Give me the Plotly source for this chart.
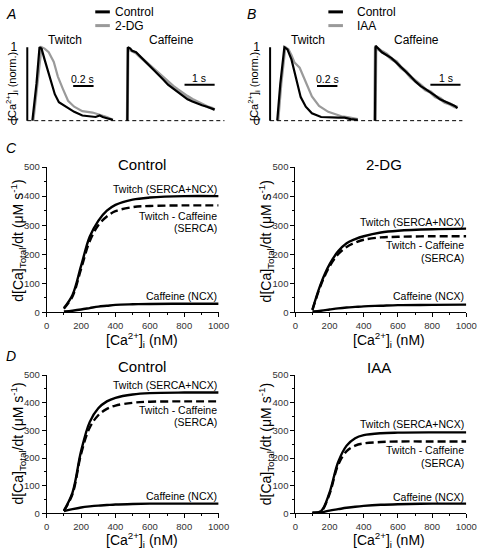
import plotly.graph_objects as go

W, H = 487, 549

# ---------------- Panel A / B data (normalised [Ca2+]i traces) ----------------
a_twitch_ctl_t = [0.05, 0.09, 0.12, 0.14, 0.17, 0.21, 0.24, 0.27, 0.31, 0.38, 0.46, 0.54, 0.62, 0.67, 0.71, 0.74, 0.79, 0.84]
a_twitch_ctl_y = [0.0, 0.5, 1.0, 0.98, 0.83, 0.65, 0.49, 0.36, 0.25, 0.19, 0.12, 0.07, 0.06, 0.05, 0.07, 0.05, 0.03, 0.01]
a_twitch_dg_t = [0.06, 0.10, 0.14, 0.17, 0.21, 0.26, 0.30, 0.35, 0.40, 0.46, 0.54, 0.64, 0.69, 0.73, 0.78, 0.83]
a_twitch_dg_y = [0.0, 0.55, 1.0, 0.98, 0.93, 0.80, 0.60, 0.43, 0.27, 0.19, 0.13, 0.11, 0.09, 0.07, 0.05, 0.02]

a_caff_t = [0, 0.02, 0.10, 0.16, 0.29, 0.39, 0.55, 0.71, 0.87, 1.03, 1.19, 1.35, 1.52, 1.68, 1.84, 2.00, 2.16, 2.32, 2.48, 2.65, 2.81, 2.90]
a_caff_ctl_y = [0, 1.00, 0.98, 0.95, 0.93, 0.89, 0.83, 0.76, 0.69, 0.63, 0.56, 0.49, 0.44, 0.39, 0.34, 0.29, 0.26, 0.23, 0.21, 0.19, 0.16, 0.15]
a_caff_dg_y = [0, 0.97, 0.96, 0.95, 0.92, 0.88, 0.82, 0.77, 0.71, 0.65, 0.58, 0.52, 0.47, 0.42, 0.37, 0.33, 0.29, 0.26, 0.22, 0.19, 0.17, 0.15]

b_twitch_ctl_t = [0.07, 0.10, 0.14, 0.17, 0.21, 0.24, 0.27, 0.30, 0.35, 0.41, 0.50, 0.60, 0.67, 0.73, 0.79, 0.86]
b_twitch_ctl_y = [0.0, 0.5, 1.0, 0.97, 0.83, 0.65, 0.47, 0.32, 0.19, 0.10, 0.05, 0.04, 0.04, 0.04, 0.02, 0.01]
b_twitch_iaa_t = [0.08, 0.11, 0.15, 0.18, 0.21, 0.24, 0.29, 0.35, 0.41, 0.48, 0.57, 0.70, 0.76, 0.86]
b_twitch_iaa_y = [0.0, 0.5, 1.0, 0.97, 0.89, 0.79, 0.72, 0.53, 0.33, 0.20, 0.12, 0.06, 0.05, 0.02]

b_caff_t = [0, 0.02, 0.23, 0.39, 0.55, 0.71, 0.87, 1.03, 1.19, 1.35, 1.52, 1.68, 1.84, 2.00, 2.16, 2.32, 2.48, 2.65, 2.74]
b_caff_ctl_y = [0, 1.02, 0.93, 0.89, 0.85, 0.79, 0.73, 0.66, 0.60, 0.53, 0.47, 0.43, 0.39, 0.34, 0.29, 0.26, 0.23, 0.20, 0.17]
b_caff_iaa_y = [0, 1.00, 0.94, 0.90, 0.84, 0.80, 0.72, 0.67, 0.59, 0.54, 0.48, 0.42, 0.39, 0.33, 0.30, 0.25, 0.23, 0.19, 0.18]

# ---------------- Panel C / D data (d[Ca]Total/dt vs [Ca2+]i) ----------------
ca_nM = [100, 150, 200, 250, 300, 350, 400, 500, 600, 800, 1000]

c_ctl_twitch = [15, 60, 160, 260, 315, 350, 370, 388, 395, 400, 400]
c_ctl_serca = [13, 55, 150, 245, 300, 330, 348, 362, 366, 368, 368]
c_ctl_ncx = [3, 6, 10, 15, 20, 23, 26, 28, 29, 30, 30]

c_dg_twitch = [10, 100, 165, 210, 238, 252, 262, 275, 281, 286, 288]
c_dg_serca = [8, 95, 158, 200, 225, 240, 250, 258, 260, 262, 262]
c_dg_ncx = [3, 6, 10, 14, 17, 19, 21, 23, 25, 26, 27]

d_ctl_twitch = [10, 75, 225, 330, 380, 405, 418, 430, 435, 437, 437]
d_ctl_serca = [8, 70, 215, 310, 355, 378, 390, 400, 404, 405, 405]
d_ctl_ncx = [8, 15, 21, 25, 28, 30, 32, 34, 35, 35, 35]

d_iaa_twitch = [2, 8, 75, 185, 245, 272, 283, 290, 292, 293, 293]
d_iaa_serca = [2, 7, 70, 175, 225, 245, 253, 258, 260, 260, 260]
d_iaa_ncx = [1, 3, 10, 15, 20, 24, 27, 31, 33, 35, 35]

y_ticks = [0, 100, 200, 300, 400, 500]
x_ticks = [0, 200, 400, 600, 800, 1000]

FONT = "Liberation Sans, Arial, sans-serif"
GREY = "#9a9a9a"


def xd(a, b):
    return [a / W, b / W]


def yd(top, bottom):
    return [1 - bottom / H, 1 - top / H]


def px(x):
    return x / W


def py(y):
    return 1 - y / H


fig = go.Figure()
layout = dict(width=W, height=H, margin=dict(l=0, r=0, t=0, b=0),
              plot_bgcolor="white", paper_bgcolor="white", showlegend=False,
              font=dict(family=FONT, color="black"))

# ---------- top panels: axes ----------
TW_PPS = 105.0   # px per second twitch
CF_PPS = 31.0    # px per second caffeine
Y0, Y1 = 117.0, 42.0  # px of value 0 and 1
ylo, yhi = -0.12, 1.12
ppu = (Y0 - Y1)
ydom_top = yd(Y1 - (yhi - 1) * ppu, Y0 - ylo * ppu)


def hidden_x(t0px, lo, hi, pps, anchor):
    return dict(domain=xd(t0px + lo * pps, t0px + hi * pps), range=[lo, hi],
                visible=False, anchor=anchor)


# A twitch x, A caffeine x2, B twitch x3, B caffeine x4 ; y (A), y2 (B)
layout["xaxis"] = hidden_x(25, -0.05, 0.95, TW_PPS, "y")
layout["xaxis2"] = hidden_x(128, -0.2, 3.5, CF_PPS, "y")
layout["xaxis3"] = hidden_x(275, -0.05, 0.95, TW_PPS, "y2")
layout["xaxis4"] = hidden_x(383, -0.2, 3.3, CF_PPS, "y2")
for name, anchor in (("yaxis", "x"), ("yaxis2", "x3")):
    layout[name] = dict(domain=ydom_top, range=[ylo, yhi], anchor=anchor,
                        showline=False, showgrid=False, zeroline=False,
                        tickvals=[0, 1], ticks="", ticklabelstandoff=4,
                        tickfont=dict(size=12, family=FONT, color="black"))


def line(x, y, xa, ya, color="black", width=2.0, dash="solid", shape="linear"):
    fig.add_trace(go.Scatter(x=x, y=y, xaxis=xa, yaxis=ya, mode="lines",
                             line=dict(color=color, width=width, dash=dash, shape=shape),
                             hoverinfo="skip"))


# axis lines of top panels (from 0 to 1)
line([0, 0], [0, 1], "x", "y", width=2)
line([0, 0], [0, 1], "x3", "y2", width=2)

# A traces
line(a_twitch_dg_t, a_twitch_dg_y, "x", "y", color=GREY, width=2.2)
line(a_twitch_ctl_t, a_twitch_ctl_y, "x", "y", width=2.2)
line(a_caff_t, a_caff_dg_y, "x2", "y", color=GREY, width=3)
line(a_caff_t, a_caff_ctl_y, "x2", "y", width=2.2)
# B traces
line(b_twitch_iaa_t, b_twitch_iaa_y, "x3", "y2", color=GREY, width=2.2)
line(b_twitch_ctl_t, b_twitch_ctl_y, "x3", "y2", width=2.2)
line(b_caff_t, b_caff_iaa_y, "x4", "y2", color=GREY, width=3.5)
line(b_caff_t, b_caff_ctl_y, "x4", "y2", width=2.2)

# scale bars
line([0.45, 0.65], [0.47, 0.47], "x", "y", width=2)
line([1.9, 2.9], [0.49, 0.49], "x2", "y", width=2)
line([0.46, 0.66], [0.47, 0.47], "x3", "y2", width=2)
line([1.84, 2.84], [0.49, 0.49], "x4", "y2", width=2)

shapes = []
# dashed baselines
shapes.append(dict(type="line", xref="paper", yref="y", x0=px(25), x1=px(228), y0=0, y1=0,
                   line=dict(color="black", width=1, dash="4px,3px")))
shapes.append(dict(type="line", xref="paper", yref="y2", x0=px(275), x1=px(473), y0=0, y1=0,
                   line=dict(color="black", width=1, dash="4px,3px")))
# legends
for x0, x1, y, col in ((95, 110, 6, "black"), (95, 110, 20, GREY),
                       (335, 350, 6, "black"), (335, 350, 20, GREY)):
    shapes.append(dict(type="line", xref="paper", yref="paper", x0=px(x0), x1=px(x1),
                       y0=py(y), y1=py(y), line=dict(color=col, width=3)))

annotations = []


def ann(text, x, y, size=12, xanchor="center", yanchor="middle", angle=0, color="black", align="center"):
    annotations.append(dict(text=text, x=px(x), y=py(y), xref="paper", yref="paper",
                            xanchor=xanchor, yanchor=yanchor, showarrow=False,
                            textangle=angle, align=align,
                            font=dict(size=size, family=FONT, color=color)))


ann("<i>A</i>", 1, 8, size=14, xanchor="left")
ann("<i>B</i>", 249, 8, size=14, xanchor="left")
ann("<i>C</i>", 1, 145, size=14, xanchor="left")
ann("<i>D</i>", 1, 357, size=14, xanchor="left")

ann("Control", 113, 6, size=12, xanchor="left")
ann("2-DG", 113, 20, size=12, xanchor="left")
ann("Control", 362, 6, size=12, xanchor="left")
ann("IAA", 362, 20, size=12, xanchor="left")

ann("Twitch", 64, 35, size=12)
ann("Caffeine", 174, 35, size=12)
ann("Twitch", 314, 35, size=12)
ann("Caffeine", 426, 35, size=12)

ann("0.2 s", 82, 74, size=10.5)
ann("1 s", 202, 73, size=10.5)
ann("0.2 s", 334, 74, size=10.5)
ann("1 s", 456, 73, size=10.5)

ytitle_top = "[Ca<sup>2+</sup>]<sub>i</sub> (norm.)"
ann(ytitle_top, 10, 82, size=11, angle=-90)
ann(ytitle_top, 259, 82, size=11, angle=-90)

# ---------- lower panels ----------
panels = [
    (5, (45, 222), (164.3, 312.7)),
    (6, (301, 477), (164.3, 312.7)),
    (7, (45, 222), (376.7, 517.7)),
    (8, (301, 477), (376.7, 517.7)),
]
for idx, (xa, xb), (yt, yb) in panels:
    layout[f"xaxis{idx}"] = dict(domain=xd(xa, xb), range=[0, 1000], anchor=f"y{idx}",
                                 showline=True, linecolor="black", linewidth=1,
                                 showgrid=False, zeroline=False,
                                 tickvals=x_ticks, ticks="outside", ticklen=4, tickwidth=1,
                                 tickcolor="black",
                                 minor=dict(dtick=100, ticks="outside", ticklen=2, tickcolor="black"),
                                 tickfont=dict(size=9.5, family=FONT, color="#333"))
    layout[f"yaxis{idx}"] = dict(domain=yd(yt, yb), range=[0, 500], anchor=f"x{idx}",
                                 showline=True, linecolor="black", linewidth=1,
                                 showgrid=False, zeroline=False,
                                 tickvals=y_ticks, ticks="outside", ticklen=4, tickwidth=1,
                                 tickcolor="black",
                                 minor=dict(dtick=50, ticks="outside", ticklen=2, tickcolor="black"),
                                 tickfont=dict(size=9.5, family=FONT, color="#333"))

series = [
    (5, c_ctl_twitch, c_ctl_serca, c_ctl_ncx),
    (6, c_dg_twitch, c_dg_serca, c_dg_ncx),
    (7, d_ctl_twitch, d_ctl_serca, d_ctl_ncx),
    (8, d_iaa_twitch, d_iaa_serca, d_iaa_ncx),
]
for idx, tw, se, nc in series:
    xa, ya = f"x{idx}", f"y{idx}"
    line(ca_nM, se, xa, ya, width=2.4, dash="8px,4px", shape="spline")
    line(ca_nM, tw, xa, ya, width=2.4, shape="spline")
    line(ca_nM, nc, xa, ya, width=2.4, shape="spline")

ann("Control", 143, 162, size=15)
ann("2-DG", 392, 162, size=15)
ann("Control", 143, 368, size=15)
ann("IAA", 387, 369, size=15)

lab = [
    (222, 187, 214, 227, 296),
    (477, 220, 244, 257, 296),
    (222, 387, 412, 424, 500),
    (477, 427, 453, 466, 501),
]
for xr, y1, y2, y3, y4 in lab:
    ann("Twitch (SERCA+NCX)", xr, y1, size=10.5, xanchor="right")
    ann("Twitch - Caffeine", xr, y2, size=10.5, xanchor="right")
    ann("(SERCA)", xr, y3, size=10.5, xanchor="right")
    ann("Caffeine (NCX)", xr, y4, size=10.5, xanchor="right")

ytitle = "d[Ca]<sub>Total</sub>/dt (μM s<sup>-1</sup>)"
ann(ytitle, 16, 240, size=14, angle=-90)
ann(ytitle, 271, 240, size=14, angle=-90)
ann(ytitle, 16, 447, size=14, angle=-90)
ann(ytitle, 271, 447, size=14, angle=-90)

xtitle = "[Ca<sup>2+</sup>]<sub>i</sub> (nM)"
ann(xtitle, 143, 329, size=14, yanchor="top")
ann(xtitle, 397, 329, size=14, yanchor="top")
ann(xtitle, 143, 533, size=14, yanchor="top")
ann(xtitle, 397, 533, size=14, yanchor="top")

layout["shapes"] = shapes
layout["annotations"] = annotations
fig.update_layout(**layout)

fig.write_html("out.html", config={"displayModeBar": False},
               post_script="document.body.style.margin='0';")
